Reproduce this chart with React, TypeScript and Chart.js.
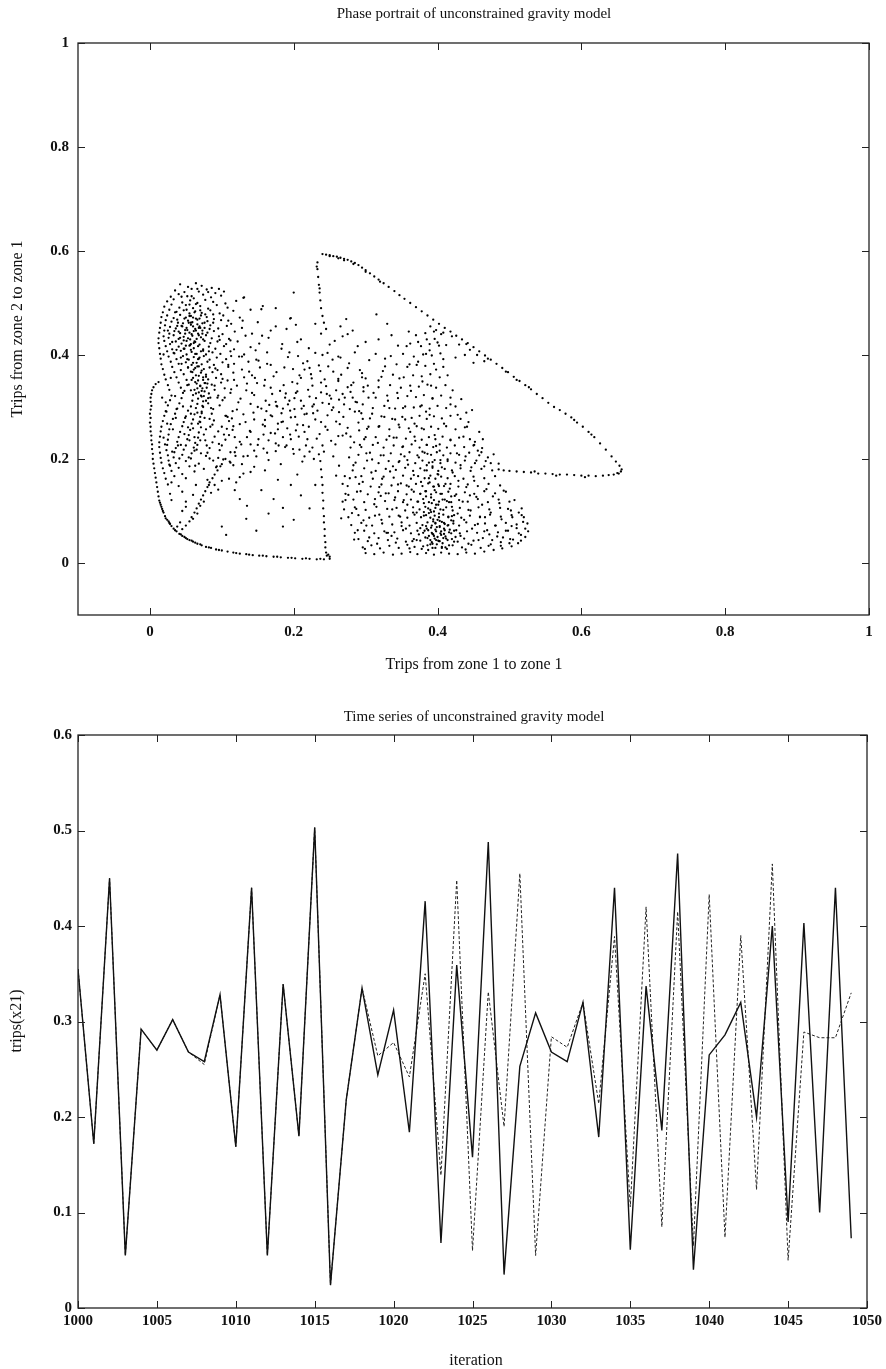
import { useEffect, useRef } from 'react';
import { Chart, registerables } from 'chart.js';

Chart.register(...registerables);

// ---------- Phase portrait data (x11, x21) in units of 0.001 ----------
const leftArc = [[12,348],[8,344],[5,338],[3,332],[2,325],[1,318],[1,310],[2,302],[1,295],[0,287],[1,279],[0,270],[1,262],[1,253],[2,245],[2,236],[3,228],[3,219],[4,210],[4,200],[5,191],[6,182],[7,173],[8,164],[9,155],[10,146],[11,137],[12,128],[13,120],[15,112],[17,104],[19,97],[21,90],[24,83],[27,77],[30,71],[33,66],[37,61],[41,56],[45,52],[50,48],[55,44],[60,41],[66,37],[72,34],[78,31],[85,29],[92,26],[100,24],[108,22],[116,20],[125,18],[134,17],[143,15],[152,14],[162,13],[172,12],[182,11],[192,10],[202,9],[212,8],[222,8],[232,7],[242,7],[250,8],[16,108],[22,86],[28,75],[35,63],[43,55],[52,46],[63,39],[70,36],[48,50],[58,43],[82,30],[96,25],[120,19],[138,16],[157,14],[177,12],[197,10],[217,9],[237,8],[14,116],[18,100],[26,80]];
const leftBranch = [[45,65],[50,72],[55,80],[58,88],[62,97],[65,105],[68,114],[71,122],[74,130],[77,138],[80,146],[83,155],[87,163],[90,170],[94,178],[98,186],[60,85],[70,110],[82,150],[100,190],[105,200],[111,195],[116,188],[80,160],[90,150],[100,158],[110,162],[120,155],[85,135],[95,141],[38,70],[42,78],[66,95],[75,118],[125,165],[130,172]];
const sparseLow = [[134,85],[185,106],[185,70],[200,83],[172,123],[106,54],[100,70],[125,123],[135,110],[50,108],[45,100],[30,155],[64,150],[155,140],[210,130],[165,95],[222,105],[148,62],[196,150],[230,150],[118,140],[178,160],[140,175],[205,170]];
const gapLine = [[237,196],[238,180],[239,165],[240,150],[240,135],[241,120],[241,105],[242,90],[242,78],[243,65],[243,52],[244,40],[244,30],[245,20],[246,14],[250,12],[248,16]];
const loopTop = [[240,594],[245,593],[250,592],[255,590],[260,589],[265,587],[270,585],[275,583],[280,580],[285,577],[290,573],[295,568],[300,563],[306,557],[312,551],[318,545],[325,538],[332,531],[340,523],[347,515],[354,508],[362,500],[370,492],[378,484],[386,476],[394,468],[402,460],[410,452],[418,445],[426,437],[434,430],[442,423],[450,415],[458,407],[466,399],[474,391],[482,383],[490,375],[498,367],[506,358],[514,350],[522,342],[530,334],[538,325],[546,317],[554,308],[562,300],[570,294],[578,287],[586,280],[594,270],[602,262],[610,252],[618,242],[626,230],[634,218],[642,205],[648,195],[653,187],[656,180],[655,176],[650,173],[270,582],[283,575],[300,560],[320,541],[440,421],[470,393],[495,368],[510,352],[527,338],[590,275],[614,247],[250,590],[262,586]];
const loopBottom = [[645,170],[638,169],[630,168],[620,167],[610,168],[600,168],[590,169],[580,170],[570,170],[560,171],[550,172],[540,172],[530,174],[520,175],[510,176],[500,177],[492,178],[485,180],[605,165],[565,168],[535,176],[652,172]];
const loopLeft = [[233,578],[233,565],[234,550],[235,535],[236,520],[237,505],[238,490],[240,475],[242,462],[245,450],[232,570],[236,528]];
const leftCluster = [[42,536],[53,531],[64,538],[72,533],[86,529],[96,527],
[35,524],[48,521],[58,527],[68,522],[79,526],[91,519],[103,522],
[29,512],[40,517],[52,513],[61,509],[74,516],[85,511],[99,514],[131,511],
[24,503],[33,507],[45,501],[56,505],[66,500],[77,506],[88,502],[105,499],[120,504],
[20,493],[30,497],[41,491],[50,496],[60,490],[70,494],[81,489],[93,496],[108,491],[157,494],
[18,482],[27,487],[37,483],[47,486],[55,480],[63,484],[72,481],[84,486],[97,480],[116,485],[140,487],
[16,473],[24,476],[33,471],[42,477],[50,472],[57,475],[64,470],[71,476],[79,473],[89,469],[102,476],[125,472],[196,471],
[15,462],[22,467],[30,464],[38,468],[46,461],[53,466],[59,463],[66,468],[73,461],[80,465],[88,462],[99,467],[113,460],[150,463],
[14,452],[21,457],[28,454],[36,451],[44,456],[51,452],[57,458],[63,450],[69,455],[76,452],[84,457],[95,451],[107,456],[128,452],[175,455],
[13,443],[20,447],[27,441],[34,446],[42,442],[49,448],[55,443],[61,446],[67,441],[73,447],[80,443],[89,446],[101,440],[118,445],[142,441],
[12,432],[19,436],[26,433],[33,438],[40,431],[47,435],[53,432],[59,437],[65,431],[71,434],[78,438],[86,432],[96,436],[110,431],[133,437],[165,433],
[12,423],[20,427],[28,421],[36,426],[44,422],[51,427],[57,421],[63,425],[69,420],[76,427],[84,423],[94,426],[106,421],[122,426],[152,422],[205,425],
[13,413],[22,417],[31,411],[40,416],[48,412],[55,418],[61,413],[67,417],[74,411],[82,416],[91,412],[103,417],[117,411],[140,415],[183,412],
[14,402],[24,407],[34,403],[43,408],[51,401],[58,406],[65,402],[71,407],[78,401],[87,405],[98,402],[112,407],[131,401],[163,405],[230,404],
[15,393],[26,397],[37,392],[46,398],[54,391],[61,396],[68,393],[75,398],[83,391],[93,395],[106,392],[124,397],[148,391],[192,396],
[16,382],[29,387],[40,383],[50,386],[58,381],[65,385],[72,382],[80,387],[89,381],[101,386],[117,383],[137,387],[168,381],[213,384],
[18,373],[31,377],[43,371],[53,376],[61,372],[68,378],[75,373],[83,376],[94,371],[109,377],[128,372],[153,376],[199,373],[248,378],
[20,362],[34,367],[47,363],[57,368],[64,361],[71,366],[78,362],[87,367],[99,363],[116,366],[142,361],[176,367],[224,363],
[22,353],[37,357],[51,352],[60,356],[67,351],[74,357],[81,353],[92,356],[108,351],[131,357],[160,352],[210,356],[262,354],
[25,342],[40,347],[54,343],[63,348],[70,341],[77,346],[86,343],[99,347],[121,341],[149,346],[186,342],[238,347],
[27,333],[43,337],[57,332],[66,336],[72,331],[79,337],[90,333],[104,336],[134,332],[168,337],[220,333],[275,338],
[30,322],[46,327],[60,323],[68,328],[75,321],[82,326],[95,322],[112,327],[145,323],[189,326],[250,322],
[28,313],[44,317],[59,312],[67,316],[74,311],[84,318],[101,313],[126,316],[161,312],[201,317],[263,314],
[25,303],[41,307],[57,301],[66,306],[73,302],[81,307],[97,303],[140,306],[176,302],[228,305],
[22,292],[38,297],[53,293],[64,298],[72,291],[88,296],[115,292],[155,297],[195,293],
[20,283],[35,287],[50,282],[62,286],[70,281],[86,287],[106,283],[130,286],[170,282],[215,286],
[18,273],[32,277],[47,271],[60,276],[69,272],[83,277],[110,273],[145,276],[185,272],
[16,262],[29,267],[45,263],[58,268],[71,261],[87,266],[100,262],[125,267],[160,263],[205,266],
[15,253],[27,257],[42,252],[56,256],[68,251],[78,257],[95,253],[115,256],[140,252],[178,257],
[14,243],[26,247],[40,242],[54,246],[67,241],[75,247],[90,243],[110,246],[135,242],[195,247],
[13,232],[25,237],[38,233],[52,238],[63,231],[70,236],[87,232],[105,237],[125,233],[165,236],
[13,223],[24,227],[36,221],[50,226],[61,222],[66,227],[83,221],[100,226],[120,222],[150,227],[188,223],
[14,212],[23,217],[34,213],[47,218],[58,211],[62,216],[80,212],[97,217],[118,213],[145,216],
[15,202],[25,207],[33,203],[45,208],[57,201],[78,206],[95,202],[130,205],
[16,193],[26,197],[36,192],[50,196],[68,191],[88,197],[112,193],
[18,182],[28,187],[40,183],[55,186],[75,181],[92,184],
[20,173],[30,177],[45,171],[62,176],[22,162],[34,167],[50,163],[25,151],[40,148],[28,133],[45,137],[60,131],[30,121],[50,118]];
const leftCore = [[48,470],[54,462],[60,455],[66,459],[52,448],[58,440],[64,447],[70,452],[56,430],[62,426],[68,438],[74,430],[50,418],[57,410],[63,402],[69,395],[60,385],[66,378],[72,370],[68,360],[74,352],[70,340],[76,330],[72,320],[78,312],[74,300],[45,455],[40,445],[47,428],[55,475],[62,482],[69,470],[76,462],[83,450],[43,395],[37,410],[31,425],[65,345],[80,345],[62,333]];
const leftCloud = [[17,318],[23,291],[29,356],[33,404],[36,279],[39,462],[44,383],[48,331],[51,487],[53,261],[56,419],[59,367],[62,242],[64,498],[67,392],[70,271],[73,441],[76,346],[79,226],[82,407],[85,298],[88,478],[91,374],[94,318],[97,429],[101,354],[105,283],[109,466],[113,398],[118,242],[21,228],[27,189],[32,257],[41,201],[46,301],[55,236],[63,187],[71,211],[84,262],[93,186],[19,401],[25,447],[58,513],[81,521],[44,512],[66,527],[35,482],[52,392],[61,423],[68,452],[74,408],[57,462],[49,441],[63,375],[78,358],[71,322],[66,289],[58,352],[53,376],[47,412],[42,433],[38,456],[60,472],[55,497],[70,486],[77,478],
[19,241],[24,268],[31,214],[37,296],[43,227],[49,279],[54,203],[60,259],[65,218],[72,288],[77,236],[83,201],[89,274],[96,229],[102,199],[107,258],[114,278],[119,206],[22,309],[35,321],[52,342],[64,326],[73,336],[81,317],[90,341],[57,287],[67,268],[76,279],[48,248],[39,226]];
const midBand = [[150,300],[162,292],[175,310],[183,288],[192,305],[201,296],[210,312],[218,287],[226,301],[233,293],[240,308],[247,284],[255,299],[263,290],[270,305],[278,296],[286,310],[294,288],[170,325],[188,318],[205,330],[222,320],[238,328],[252,316],[268,325],[282,318],[297,330],[160,275],[178,268],[196,280],[213,265],[230,276],[244,262],[259,272],[275,260],[290,270],[168,250],[185,242],[203,255],[219,238],[236,248],[252,235],[268,245],[284,232],[300,242],[200,210],[208,218],[215,205],[222,214],[228,200],[235,209],[212,195],[226,222],[140,228],[158,220],[175,215],[190,226],[148,205],[165,198],[182,190],[128,190],[145,185],[160,178],[175,230],[205,345],[225,355],[245,340],[262,350],[280,342],[300,355],[215,372],[235,380],[255,368],[275,375],[295,365],[240,400],[265,395],[285,405],[305,390],[210,430],[250,420],[275,440],[300,425],[190,450],[230,460],[265,455],[175,490],[200,520],[155,488],[130,510],[195,470],[282,447],[318,430]];
const midCloud = [[104,318],[117,352],[123,309],[138,368],[142,327],[151,389],[159,341],[166,304],[172,359],[181,331],[187,376],[194,312],[198,348],[109,381],[128,397],[146,356],[163,383],[177,301],[113,334],[135,345],
[203,327],[208,361],[214,302],[219,388],[226,341],[231,317],[237,369],[243,353],[249,306],[254,391],[259,332],[266,362],[271,318],[277,384],[283,347],[288,309],[292,371],[297,338],[206,398],[222,375],[246,325],[262,397],[279,329],[295,357],
[103,247],[108,281],[116,263],[121,295],[127,228],[133,271],[139,254],[144,289],[151,238],[157,266],[163,212],[168,284],[174,249],[179,226],[185,297],[191,259],[196,238],[112,213],[136,206],[158,247],[183,271],[199,219],
[202,281],[207,243],[211,297],[217,226],[221,262],[227,288],[232,239],[238,271],[242,214],[247,256],[253,294],[258,228],[264,267],[269,281],[273,249],[279,222],[285,291],[291,255],[296,277],[215,252],[240,226],[262,244],
[112,428],[129,466],[147,409],[168,447],[184,421],[203,458],[221,413],[238,441],[257,427],[273,469],[289,417],[156,437],[194,405],[247,404],[268,436]];
const rightCluster = [[300,19],[312,17],[325,20],[338,16],[350,18],[362,21],[372,17],[384,19],[395,16],[405,20],[416,18],[428,17],[440,20],[452,18],[465,22],[478,25],[490,28],[503,32],[512,38],
[296,30],[308,34],[320,28],[333,33],[346,29],[358,35],[368,31],[378,27],[386,34],[393,29],[399,36],[406,31],[413,27],[421,34],[434,30],[447,35],[460,29],[474,36],[488,33],[500,38],[516,43],
[290,46],[303,42],[318,48],[331,44],[344,47],[356,41],[367,46],[376,43],[383,49],[390,44],[396,47],[402,42],[408,48],[414,44],[420,46],[428,41],[437,47],[450,43],[463,48],[476,44],[491,49],[505,45],[522,50],
[285,58],[298,62],[312,57],[326,61],[340,59],[352,63],[363,57],[372,62],[380,58],[387,63],[393,56],[398,61],[404,57],[410,63],[416,59],[423,62],[431,57],[441,61],[455,58],[469,63],[484,59],[498,62],[513,57],[526,61],
[280,73],[294,77],[309,72],[323,76],[337,74],[350,78],[361,72],[371,77],[379,73],[386,78],[392,72],[397,76],[403,71],[409,77],[415,73],[422,76],[430,72],[440,78],[452,73],[466,76],[481,72],[495,77],[510,74],[525,76],
[276,88],[290,92],[305,87],[319,93],[333,89],[346,91],[358,87],[368,93],[377,88],[384,92],[390,87],[396,91],[402,88],[408,93],[415,89],[423,92],[433,87],[445,91],[459,88],[473,93],[488,89],[503,92],[520,88],
[270,103],[285,107],[300,102],[315,108],[330,104],[343,106],[355,101],[366,107],[375,103],[383,108],[390,102],[397,106],[404,103],[412,107],[421,101],[431,106],[443,102],[457,107],[472,103],[487,106],[502,101],[517,105],
[268,118],[283,122],[298,117],[313,123],[327,119],[340,121],[352,117],[363,122],[372,118],[380,123],[388,117],[395,121],[402,118],[410,122],[419,117],[430,121],[442,118],[456,123],[470,117],[485,122],[500,118],
[272,133],[288,137],[303,132],[318,136],[332,134],[345,138],[357,132],[367,137],[376,133],[384,138],[391,132],[398,136],[406,133],[415,137],[426,132],[438,136],[451,133],[465,138],[480,134],[495,137],
[275,148],[291,152],[307,147],[322,151],[336,149],[349,153],[360,147],[370,152],[379,148],[387,153],[394,147],[401,151],[409,148],[418,152],[429,147],[442,151],[456,148],[471,152],[487,149],
[278,163],[294,167],[310,162],[325,166],[339,164],[352,168],[363,162],[373,167],[382,163],[390,168],[397,162],[405,166],[414,163],[424,167],[436,162],[450,166],[465,163],[480,167],
[282,178],[298,182],[314,177],[328,181],[342,179],[355,183],[366,177],[376,182],[385,178],[393,183],[401,177],[410,181],[420,178],[432,182],[446,177],[461,181],[476,178],
[286,193],[302,197],[318,192],[332,196],[346,194],[358,198],[369,192],[379,197],[388,193],[396,198],[404,192],[414,196],[425,193],[438,197],[452,192],[467,196],
[290,208],[306,212],[321,207],[335,211],[349,209],[361,213],[372,207],[382,212],[391,208],[399,213],[408,207],[418,211],[430,208],[444,212],[458,207],
[294,223],[310,227],[325,222],[339,226],[352,224],[364,228],[375,222],[385,227],[394,223],[403,228],[413,222],[424,226],[437,223],[451,227],[462,221],
[298,238],[314,242],[329,237],[343,241],[356,239],[368,243],[378,237],[388,242],[397,238],[407,243],[418,237],[430,241],[445,238],
[302,258],[318,262],[333,257],[347,261],[360,259],[371,263],[381,257],[391,262],[401,258],[412,263],[425,257],[438,261],
[306,278],[322,282],[337,277],[351,281],[364,279],[375,283],[385,277],[395,282],[406,278],[418,283],[432,277],
[310,298],[326,302],[341,297],[355,301],[367,299],[378,303],[389,297],[400,302],[412,298],[425,301],
[314,318],[330,322],[345,317],[358,321],[370,319],[381,323],[393,317],[405,322],[418,318],
[318,338],[334,342],[349,337],[362,341],[374,339],[386,343],[398,337],[411,342],
[322,358],[338,362],[353,357],[366,361],[378,359],[390,363],[403,357],
[327,378],[343,382],[358,377],[371,381],[383,379],[395,383],[408,377],
[335,398],[352,402],[367,397],[380,401],[392,399],[404,403],
[345,418],[362,422],[377,417],[389,421],[400,424],[412,419],
[370,438],[383,442],[395,445],[405,440],[420,436],
[390,455],[398,448],[408,443],[385,430],[430,420],[445,410],[455,400],[465,388],[438,400],[425,395],[450,385],[360,445],[330,460],[315,478]];
const rightCore = [[388,52],[394,55],[400,50],[405,54],[411,51],[385,66],[391,68],[397,64],[403,69],[409,66],[394,80],[400,83],[406,79],[381,98],[388,96],[395,99],[401,112],[392,115],[384,128],[396,140],[389,155],[401,170],[393,186],[404,198],[386,210],[398,225],[392,40],[403,42],[417,64],[419,82]];
const rightCloud = [[303,341],[309,287],[314,402],[319,263],[324,369],[331,312],[336,438],[341,276],[347,355],[352,298],[357,417],[363,331],[368,268],[373,387],[379,349],[384,291],[389,409],[393,316],[398,372],[304,318],[327,393],[344,327],[361,382],[376,301],[391,341],
[263,187],[268,152],[272,121],[277,203],[281,96],[286,165],[289,63],[293,138],[297,82],[301,211],[305,49],[308,174],[312,113],[316,37],[319,146],[255,205],[259,168],[266,86],[284,45],[299,27],
[322,83],[325,207],[328,134],[331,58],[334,176],[337,103],[339,241],[342,39],[345,151],[348,89],[351,223],[353,121],[356,66],[359,189],[361,28],[364,141],[366,97],[369,235],[323,162],[336,52],[347,196],[358,112],[367,169],
[371,44],[373,118],[374,203],[376,67],[377,156],[378,259],[380,32],[381,91],[382,178],[383,138],[384,71],[385,227],[386,48],[387,105],[388,163],[389,285],[390,36],[391,126],[392,58],[393,194],[394,84],[395,147],[396,246],[397,29],[398,112],[399,69],[400,171],[401,43],[402,95],[403,216],[404,133],[405,61],[406,184],[407,38],[408,102],[409,268],[410,75],[411,152],[412,47],[413,119],[414,199],[415,88],[416,34],[417,143],[418,236],[419,57],[420,108],[421,174],[422,81],[423,41],[424,129],[426,63],[427,211],[428,95],[429,158],[371,97],[379,214],[387,25],[395,52],[403,81],[411,30],[419,128],[425,50],[382,62],[398,44],[407,122],[414,72],[391,98],[376,133],[402,148],[385,188],[397,77],[409,56],[420,90],[374,55],[393,37],[406,29],[416,117],[381,115],
[432,52],[435,118],[437,83],[440,146],[443,37],[446,101],[448,66],[451,158],[454,127],[457,44],[459,89],[462,112],[465,61],[468,142],[471,33],[474,97],[477,128],[480,72],[483,51],[486,115],[489,84],[492,139],[495,62],[498,104],[501,46],[504,88],[507,121],[510,67],[513,97],[516,54],[519,79],[522,66],[439,26],[456,75],[472,55],[488,40],[503,71],[517,92],[445,130],[466,88],
[432,188],[436,243],[439,205],[443,271],[447,184],[450,226],[454,197],[458,252],[461,213],[465,186],[470,203],[474,192],[440,289],[452,233],
[271,167],[276,131],[279,243],[283,188],[287,104],[292,227],[296,156],[301,72],[304,262],[309,199],[313,91],[317,231],[321,129],[326,281],[329,58],[333,244],[338,186],[341,126],[346,266],[350,71],[354,205],[357,149],[362,252],[365,42],[291,292],[311,327],[333,298],[355,276],[296,305],[318,351],
[433,315],[441,262],[448,294],[456,216],[463,238],[478,209],[485,191],[421,332],[414,361],[408,392],[402,418],[396,431],[418,305],[428,285],[384,402],[373,425]];

const phaseXTicks = [0, 0.2, 0.4, 0.6, 0.8, 1];
const phaseYTicks = [0, 0.2, 0.4, 0.6, 0.8, 1];

// ---------- Time series data ----------
const iterations = [1000,1001,1002,1003,1004,1005,1006,1007,1008,1009,1010,1011,1012,1013,1014,1015,1016,1017,1018,1019,1020,1021,1022,1023,1024,1025,1026,1027,1028,1029,1030,1031,1032,1033,1034,1035,1036,1037,1038,1039,1040,1041,1042,1043,1044,1045,1046,1047,1048,1049];
const tripsSolid = [0.355,0.172,0.450,0.055,0.292,0.270,0.302,0.268,0.258,0.328,0.169,0.440,0.055,0.339,0.180,0.503,0.024,0.218,0.335,0.244,0.312,0.184,0.426,0.068,0.359,0.158,0.488,0.035,0.253,0.309,0.268,0.258,0.320,0.179,0.440,0.061,0.337,0.186,0.476,0.040,0.265,0.286,0.320,0.200,0.400,0.090,0.403,0.100,0.440,0.073];
const tripsDashed = [0.355,0.172,0.450,0.055,0.292,0.270,0.302,0.268,0.255,0.328,0.169,0.440,0.055,0.339,0.180,0.503,0.024,0.218,0.335,0.264,0.278,0.242,0.350,0.139,0.448,0.060,0.331,0.190,0.455,0.055,0.284,0.273,0.320,0.214,0.389,0.106,0.420,0.085,0.415,0.065,0.433,0.074,0.390,0.124,0.465,0.050,0.289,0.283,0.283,0.330];
const seriesXTicks = [1000,1005,1010,1015,1020,1025,1030,1035,1040,1045,1050];
const seriesYTicks = [0, 0.1, 0.2, 0.3, 0.4, 0.5, 0.6];

const SERIF = "'Liberation Serif', 'Times New Roman', serif";
const INK = '#111';

const fmt = (v: number) => String(Number(Number(v).toFixed(3)));

type TextItem = { text: string; x: number; y: number; size: number; rotate?: boolean };

function framePlugin(xTicks: number[], yTicks: number[], texts: TextItem[], tickLen: number) {
  return {
    id: 'frameAndText',
    afterDraw(chart: any) {
      const { ctx, chartArea } = chart;
      const { left, right, top, bottom } = chartArea;
      const xs = chart.scales.x;
      const ys = chart.scales.y;
      ctx.save();
      ctx.strokeStyle = '#222';
      ctx.lineWidth = 1.3;
      ctx.strokeRect(left, top, right - left, bottom - top);
      ctx.lineWidth = 1;
      ctx.beginPath();
      xTicks.forEach((v) => {
        const p = Math.round(xs.getPixelForValue(v)) + 0.5;
        ctx.moveTo(p, bottom);
        ctx.lineTo(p, bottom - tickLen);
        ctx.moveTo(p, top);
        ctx.lineTo(p, top + tickLen);
      });
      yTicks.forEach((v) => {
        const p = Math.round(ys.getPixelForValue(v)) + 0.5;
        ctx.moveTo(left, p);
        ctx.lineTo(left + tickLen, p);
        ctx.moveTo(right, p);
        ctx.lineTo(right - tickLen, p);
      });
      ctx.stroke();
      ctx.fillStyle = INK;
      ctx.textAlign = 'center';
      ctx.textBaseline = 'middle';
      texts.forEach((t) => {
        ctx.font = `${t.size}px ${SERIF}`;
        if (t.rotate) {
          ctx.save();
          ctx.translate(t.x, t.y);
          ctx.rotate(-Math.PI / 2);
          ctx.fillText(t.text, 0, 0);
          ctx.restore();
        } else {
          ctx.fillText(t.text, t.x, t.y);
        }
      });
      ctx.restore();
    },
  };
}

function axisOpts(min: number, max: number, ticks: number[], fitSize: number, isX: boolean, padding: number) {
  return {
    type: 'linear',
    min,
    max,
    afterBuildTicks: (s: any) => {
      s.ticks = ticks.map((v) => ({ value: v }));
    },
    afterFit: (s: any) => {
      if (isX) s.height = fitSize;
      else s.width = fitSize;
    },
    grid: { display: false, drawTicks: false },
    border: { display: false },
    ticks: {
      padding,
      color: INK,
      autoSkip: false,
      maxRotation: 0,
      font: { family: SERIF, size: 15, weight: 'bold' },
      callback: (v: any) => fmt(v),
    },
  };
}

function PhasePortrait() {
  const ref = useRef<HTMLCanvasElement>(null);
  useEffect(() => {
    const all = [...leftArc, ...leftBranch, ...sparseLow, ...gapLine, ...loopTop, ...loopBottom, ...loopLeft, ...leftCluster, ...leftCore, ...leftCloud, ...midBand, ...midCloud, ...rightCluster, ...rightCore, ...rightCloud];
    const points = all.map((p) => ({ x: p[0] / 1000, y: p[1] / 1000 }));
    const texts: TextItem[] = [
      { text: 'Phase portrait of unconstrained gravity model', x: 474, y: 14, size: 15 },
      { text: 'Trips from zone 1 to zone 1', x: 474, y: 665, size: 16 },
      { text: 'Trips from zone 2 to zone 1', x: 18, y: 329, size: 16, rotate: true },
    ];
    const chart = new Chart(ref.current as HTMLCanvasElement, {
      type: 'scatter',
      data: {
        datasets: [
          {
            data: points,
            pointRadius: 1.15,
            pointBorderWidth: 0,
            pointBackgroundColor: '#000',
            pointHoverRadius: 1.15,
          },
        ],
      },
      options: {
        animation: false,
        responsive: false,
        events: [],
        layout: { padding: { top: 43, right: 17, left: 0, bottom: 0 } },
        plugins: { legend: { display: false }, tooltip: { enabled: false }, title: { display: false } },
        scales: {
          x: axisOpts(-0.1, 1, phaseXTicks, 75, true, 8),
          y: axisOpts(-0.1, 1, phaseYTicks, 78, false, 9),
        },
      } as any,
      plugins: [framePlugin(phaseXTicks, phaseYTicks, texts, 7)],
    });
    return () => chart.destroy();
  }, []);
  return <canvas ref={ref} width={886} height={690} style={{ position: 'absolute', left: 0, top: 0, width: 886, height: 690 }} />;
}

function TimeSeries() {
  const ref = useRef<HTMLCanvasElement>(null);
  useEffect(() => {
    const texts: TextItem[] = [
      { text: 'Time series of unconstrained gravity model', x: 474, y: 27, size: 15 },
      { text: 'iteration', x: 476, y: 671, size: 16 },
      { text: 'trips(x21)', x: 17, y: 331, size: 16, rotate: true },
    ];
    const chart = new Chart(ref.current as HTMLCanvasElement, {
      type: 'line',
      data: {
        datasets: [
          {
            data: iterations.map((x, i) => ({ x, y: tripsSolid[i] })),
            borderColor: '#111',
            borderWidth: 1.4,
            pointRadius: 0,
            tension: 0,
            fill: false,
          },
          {
            data: iterations.map((x, i) => ({ x, y: tripsDashed[i] })),
            borderColor: '#222',
            borderWidth: 1,
            borderDash: [3, 2],
            pointRadius: 0,
            tension: 0,
            fill: false,
          },
        ],
      },
      options: {
        animation: false,
        responsive: false,
        events: [],
        layout: { padding: { top: 45, right: 17, left: 0, bottom: 0 } },
        plugins: { legend: { display: false }, tooltip: { enabled: false }, title: { display: false } },
        scales: {
          x: axisOpts(1000, 1050, seriesXTicks, 61, true, 4),
          y: axisOpts(0, 0.6, seriesYTicks, 78, false, 6),
        },
      } as any,
      plugins: [framePlugin(seriesXTicks, seriesYTicks, texts, 7)],
    });
    return () => chart.destroy();
  }, []);
  return <canvas ref={ref} width={886} height={679} style={{ position: 'absolute', left: 0, top: 690, width: 886, height: 679 }} />;
}

export default function App() {
  return (
    <div style={{ position: 'absolute', left: 0, top: 0, width: 886, height: 1369, background: '#fff' }}>
      <PhasePortrait />
      <TimeSeries />
    </div>
  );
}
